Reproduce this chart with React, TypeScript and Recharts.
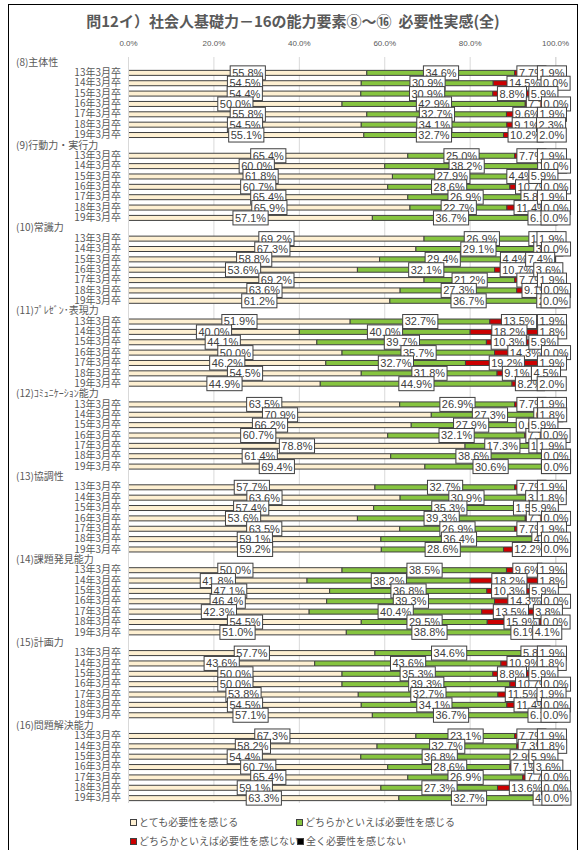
import { BarChart, Bar, XAxis, YAxis, CartesianGrid, LabelList } from "recharts";

const groups = [
  "(8)主体性",
  "(9)行動力・実行力",
  "(10)常識力",
  "(11)ﾌﾟﾚｾﾞﾝ･表現力",
  "(12)ｺﾐｭﾆｹｰｼｮﾝ能力",
  "(13)協調性",
  "(14)課題発見能力",
  "(15)計画力",
  "(16)問題解決能力",
];

const years = ["13年3月卒", "14年3月卒", "15年3月卒", "16年3月卒", "17年3月卒", "18年3月卒", "19年3月卒"];

const seriesNames = [
  "とても必要性を感じる",
  "どちらかといえば必要性を感じる",
  "どちらかといえば必要性を感じない",
  "全く必要性を感じない",
];

// とても必要性を感じる (7 values per group, 13年..19年)
const veryNeeded = [
  55.8, 54.5, 54.4, 50.0, 55.8, 54.5, 55.1,
  65.4, 60.0, 61.8, 60.7, 65.4, 65.9, 57.1,
  69.2, 67.3, 58.8, 53.6, 69.2, 63.6, 61.2,
  51.9, 40.0, 44.1, 50.0, 46.2, 54.5, 44.9,
  63.5, 70.9, 66.2, 60.7, 78.8, 61.4, 69.4,
  57.7, 63.6, 57.4, 53.6, 63.5, 59.1, 59.2,
  50.0, 41.8, 47.1, 46.4, 42.3, 54.5, 51.0,
  57.7, 43.6, 50.0, 50.0, 53.8, 54.5, 57.1,
  67.3, 58.2, 54.4, 60.7, 65.4, 59.1, 63.3,
];

// どちらかといえば必要性を感じる
const somewhatNeeded = [
  34.6, 30.9, 30.9, 42.9, 32.7, 34.1, 32.7,
  25.0, 38.2, 27.9, 28.6, 26.9, 22.7, 36.7,
  26.9, 29.1, 29.4, 32.1, 21.2, 27.3, 36.7,
  32.7, 40.0, 39.7, 35.7, 32.7, 31.8, 44.9,
  26.9, 27.3, 27.9, 32.1, 17.3, 38.6, 30.6,
  32.7, 30.9, 35.3, 39.3, 26.9, 36.4, 28.6,
  38.5, 38.2, 36.8, 39.3, 40.4, 29.5, 38.8,
  34.6, 43.6, 35.3, 39.3, 32.7, 34.1, 36.7,
  23.1, 32.7, 36.8, 28.6, 26.9, 27.3, 32.7,
];

// どちらかといえば必要性を感じない
const somewhatNotNeeded = [
  7.7, 14.5, 8.8, 7.1, 9.6, 9.1, 10.2,
  7.7, 1.8, 4.4, 10.7, 5.8, 11.4, 6.1,
  1.9, 3.6, 4.4, 10.7, 7.7, 9.1, 2.0,
  13.5, 18.2, 10.3, 14.3, 19.2, 9.1, 8.2,
  7.7, 0.0, 0.0, 7.1, 1.9, 0.0, 0.0,
  7.7, 3.6, 1.5, 7.1, 7.7, 4.5, 12.2,
  9.6, 18.2, 10.3, 14.3, 13.5, 15.9, 6.1,
  5.8, 10.9, 8.8, 10.7, 11.5, 11.4, 6.1,
  7.7, 7.3, 2.9, 7.1, 7.7, 13.6, 4.1,
];

// 全く必要性を感じない
const notNeeded = [
  1.9, 0.0, 5.9, 0.0, 1.9, 2.3, 2.0,
  1.9, 0.0, 5.9, 0.0, 1.9, 0.0, 0.0,
  1.9, 0.0, 7.4, 3.6, 1.9, 0.0, 0.0,
  1.9, 1.8, 5.9, 0.0, 1.9, 4.5, 2.0,
  1.9, 1.8, 5.9, 0.0, 1.9, 0.0, 0.0,
  1.9, 1.8, 5.9, 0.0, 1.9, 0.0, 0.0,
  1.9, 1.8, 5.9, 0.0, 3.8, 0.0, 4.1,
  1.9, 1.8, 5.9, 0.0, 1.9, 0.0, 0.0,
  1.9, 1.8, 5.9, 3.6, 0.0, 0.0, 0.0,
];

const xTicks = [0, 20, 40, 60, 80, 100];

const colors = ["#FEF0D2", "#86C440", "#CC0000", "#000000"];
const keys = ["a", "b", "c", "d"];

// header row + 7 year rows per group
const rows: any[] = [];
groups.forEach((g, gi) => {
  rows.push({ name: g, header: true, a: null, b: null, c: null, d: null });
  years.forEach((y, yi) => {
    const i = gi * 7 + yi;
    rows.push({
      name: `${y}#${gi}`,
      a: veryNeeded[i],
      b: somewhatNeeded[i],
      c: somewhatNotNeeded[i],
      d: notNeeded[i],
    });
  });
});

const headerSet = new Set(groups);
const GRAY = "#595959";
const JP = "'Noto Sans CJK JP', 'Noto Sans', sans-serif";
const MARGIN = { top: 37, right: 24, bottom: 47, left: 8.5 };

function textWidth(s: string) {
  let w = 0;
  for (const ch of s) {
    if (ch === ".") w += 0.278;
    else if (ch === "%") w += 0.889;
    else w += 0.556;
  }
  return w * 11;
}

// labels are drawn on an overlay bar spanning series "a"; scale = width / a,
// so zero-valued segments still get their 0.0% box (Excel style)
function makeLabel(series: number) {
  return function SegLabel(props: any) {
    const { x, y, width, height, value } = props;
    if (value === null || value === undefined || typeof value !== "string") return null;
    const vals = value.split("|").map(Number);
    if (!vals[0]) return null;
    const k = Number(width) / vals[0];
    let start = 0;
    for (let j = 0; j < series; j++) start += vals[j];
    const v = vals[series];
    const cx = Number(x) + (start + v / 2) * k;
    const cy = Number(y) + Number(height) / 2;
    const txt = `${v.toFixed(1)}%`;
    const w = textWidth(txt) + 4;
    return (
      <g>
        <rect x={cx - w / 2} y={cy - 7} width={w} height={14} fill="#fff" stroke="#404040" strokeWidth={1} />
        <text x={cx} y={cy} dy="0.36em" textAnchor="middle" fontSize={11} fill="#404040" fontFamily="'Liberation Sans', Arial, sans-serif">
          {txt}
        </text>
      </g>
    );
  };
}
const labelContents = keys.map((_, i) => makeLabel(i));
const packed = (r: any) => (r.a == null ? null : `${r.a}|${r.b}|${r.c}|${r.d}`);

function YTick(props: any) {
  const { y, payload } = props;
  const v = String(payload.value);
  if (headerSet.has(v)) {
    return (
      <text x={16} y={y} dy="0.35em" textAnchor="start" fontSize={10} fill={GRAY} fontFamily={JP}>
        {v}
      </text>
    );
  }
  return (
    <text x={121} y={y} dy="0.35em" textAnchor="end" fontSize={10} fill={GRAY} fontFamily={JP}>
      {v.split("#")[0]}
    </text>
  );
}

function XTick(props: any) {
  const { x, payload } = props;
  return (
    <text x={x} y={46} textAnchor="middle" fontSize={8} fill={GRAY} fontFamily="'Liberation Sans', Arial, sans-serif">
      {`${Number(payload.value).toFixed(1)}%`}
    </text>
  );
}

function LegendItem({ color, label, left, top }: { color: string; label: string; left: number; top: number }) {
  return (
    <div style={{ position: "absolute", left, top, display: "flex", alignItems: "center", whiteSpace: "nowrap" }}>
      <span style={{ width: 5, height: 5, background: color, border: "1px solid #404040", marginRight: 2 }} />
      <span style={{ fontSize: 10, color: GRAY, fontFamily: JP, lineHeight: "12px" }}>{label}</span>
    </div>
  );
}

export default function App() {
  return (
    <div style={{ position: "absolute", left: 0, top: 0, width: 580, height: 850, overflow: "hidden", background: "#fff" }}>
      <div style={{ position: "absolute", left: 8, top: 4, width: 570, height: 900, border: "1px solid #000", boxSizing: "border-box" }} />
      <div
        style={{
          position: "absolute",
          left: 8,
          top: 11,
          width: 570,
          textAlign: "center",
          fontSize: 15,
          fontWeight: "bold",
          color: GRAY,
          fontFamily: JP,
          lineHeight: "20px",
        }}
      >
        問12イ）社会人基礎力－16の能力要素⑧～⑯&nbsp;&nbsp;必要性実感(全)
      </div>
      <div style={{ position: "absolute", left: 0, top: 0 }}>
        <BarChart width={580} height={850} data={rows} layout="vertical" barSize={5} margin={MARGIN}>
          <CartesianGrid horizontal={false} stroke="#d9d9d9" />
          <XAxis
            type="number"
            orientation="top"
            domain={[0, 100]}
            ticks={xTicks}
            axisLine={false}
            tickLine={false}
            height={20}
            tick={<XTick />}
          />
          <YAxis
            type="category"
            dataKey="name"
            width={120}
            interval={0}
            tickLine={false}
            axisLine={{ stroke: "#d9d9d9" }}
            tick={<YTick />}
          />
          {keys.map((k, i) => (
            <Bar
              key={k}
              dataKey={k}
              name={seriesNames[i]}
              stackId="s"
              fill={colors[i]}
              stroke="#404040"
              strokeWidth={1}
              isAnimationActive={false}
            />
          ))}
        </BarChart>
      </div>
      {/* label overlay: same geometry, transparent bars */}
      <div style={{ position: "absolute", left: 0, top: 0 }}>
        <BarChart width={580} height={850} data={rows} layout="vertical" barSize={5} margin={MARGIN}>
          <XAxis
            type="number"
            orientation="top"
            domain={[0, 100]}
            ticks={xTicks}
            axisLine={false}
            tickLine={false}
            height={20}
            tick={false}
          />
          <YAxis type="category" dataKey="name" width={120} interval={0} tickLine={false} axisLine={false} tick={false} />
          <Bar dataKey="a" fill="none" stroke="none" isAnimationActive={false}>
            {labelContents.map((C, i) => (
              <LabelList key={i} dataKey={packed} content={<C />} />
            ))}
          </Bar>
        </BarChart>
      </div>
      <LegendItem color={colors[0]} label={seriesNames[0]} left={130} top={816} />
      <LegendItem color={colors[1]} label={seriesNames[1]} left={296} top={816} />
      <LegendItem color={colors[2]} label={seriesNames[2]} left={130} top={835} />
      <LegendItem color={colors[3]} label={seriesNames[3]} left={297} top={835} />
    </div>
  );
}
